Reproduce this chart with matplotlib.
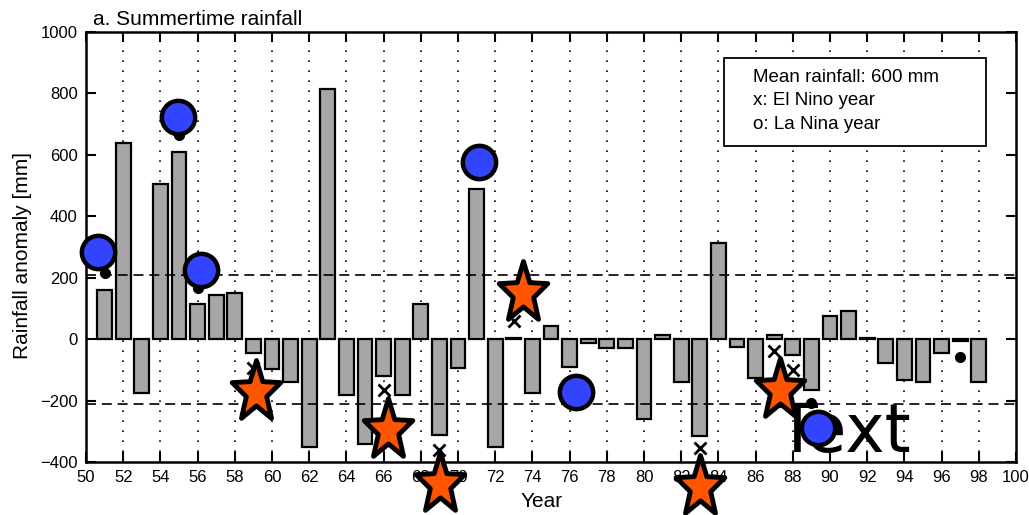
import numpy as np
import matplotlib
matplotlib.use("Agg")
import matplotlib.pyplot as plt
from matplotlib.path import Path
from matplotlib.patches import Rectangle

plt.rcParams['font.family'] = ['Liberation Sans', 'DejaVu Sans']

# rainfall anomaly per year [mm]
years = np.arange(51, 99)
anomaly = [160, 640, -175, 505, 610, 115, 145, 150, -45, -98,
           -138, -350, 815, -182, -340, -120, -182, 113, -313, -95,
           490, -350, 5, -175, 42, -90, -12, -28, -30, -260,
           12, -138, -316, 312, -25, -128, 12, -50, -166, 75,
           90, 3, -78, -134, -138, -45, -5, -140]

# El Nino (x) and La Nina (o) markers
elnino_years = [59, 66, 69, 73, 83, 87, 88]
elnino_vals = [-95, -166, -361, 60, -356, -38, -101]
lanina_years = [51, 55, 56, 71, 76, 89, 97]
lanina_vals = [214, 665, 165, 545, -140, -207, -58]

# overlay markers
circle_x = [50.65, 54.95, 56.18, 71.13, 76.33, 89.34]
circle_y = [283, 723, 225, 578, -172, -288]
star_x = [59.14, 66.25, 69.03, 73.51, 83.0, 87.31]
star_y = [-172, -296, -470, 149, -481, -166]

threshold = 210
legend_lines = ["Mean rainfall: 600 mm", "x: El Nino year", "o: La Nina year"]

# slightly narrow five-point star
ang = np.pi / 2 + np.arange(10) * np.pi / 5
rad = np.where(np.arange(10) % 2 == 0, 1.0, 0.42)
verts = np.column_stack([0.8 * rad * np.cos(ang), rad * np.sin(ang)])
verts = np.vstack([verts, verts[:1]])
star = Path(verts, [Path.MOVETO] + [Path.LINETO] * 9 + [Path.CLOSEPOLY])

fig = plt.figure(figsize=(10.29, 5.15), dpi=100)
ax = fig.add_axes([0.0836, 0.1029, 0.9038, 0.835])

for x in range(52, 100, 2):
    ax.axvline(x, color='black', lw=1.2, ls=(0, (1, 5)), zorder=1)

ax.bar(years, anomaly, width=0.8, color='#a6a6a6', edgecolor='black',
       linewidth=1.6, zorder=2)

ax.axhline(threshold, color='black', lw=1.2, ls=(0, (6, 3.5)), zorder=3)
ax.axhline(-threshold, color='black', lw=1.2, ls=(0, (6, 3.5)), zorder=3)

ax.plot(elnino_years, elnino_vals, 'x', color='black', ms=8, mew=2, zorder=4)
ax.plot(lanina_years, lanina_vals, 'o', color='black', ms=7, zorder=4)

ax.text(87.1, -368, "Text", fontsize=48, family='DejaVu Sans',
        ha='left', va='baseline', zorder=5)

ax.plot(star_x, star_y, ls='none', marker=star, ms=46, mfc='#ff5500',
        mec='black', mew=3.5, clip_on=False, zorder=6)
ax.plot(circle_x, circle_y, ls='none', marker='o', ms=24, mfc='#3344ff',
        mec='black', mew=3.2, clip_on=False, zorder=7)

# box with notes
ax.add_patch(Rectangle((0.686, 0.735), 0.282, 0.2045, transform=ax.transAxes,
                       facecolor='white', edgecolor='black', lw=1.3, zorder=8))
for i, line in enumerate(legend_lines):
    ax.text(0.717, 0.895 - i * 0.0545, line, transform=ax.transAxes,
            fontsize=13.5, va='center', ha='left', zorder=9)

ax.set_xlim(50, 100)
ax.set_ylim(-400, 1000)
ax.set_xticks(range(50, 101, 2))
ax.set_yticks(range(-400, 1001, 200))
ax.set_yticklabels([str(v).replace('-', '\u2212') for v in range(-400, 1001, 200)])
ax.tick_params(direction='in', length=7, width=1.5, labelsize=12,
               top=True, right=True, pad=6)
for sp in ax.spines.values():
    sp.set_linewidth(1.8)

ax.set_xlabel("Year", fontsize=15, labelpad=0)
ax.set_ylabel("Rainfall anomaly [mm]", fontsize=15)
ax.yaxis.set_label_coords(-0.058, 0.48)
ax.xaxis.set_label_coords(0.49, -0.07)
ax.set_title("a. Summertime rainfall", fontsize=15, loc='left', x=0.008, pad=5)

fig.savefig("out.png", dpi=100)
